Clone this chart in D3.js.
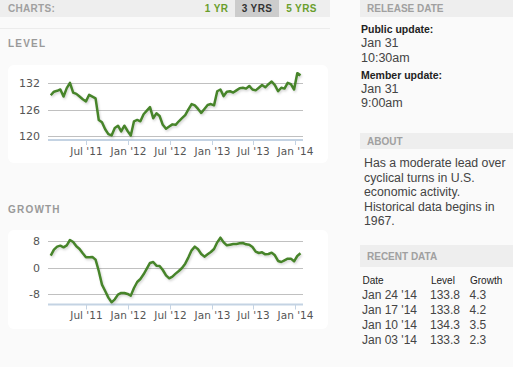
<!DOCTYPE html>
<html><head><meta charset="utf-8">
<script src="https://cdn.jsdelivr.net/npm/d3@7/dist/d3.min.js"></script>
<style>
html,body{margin:0;padding:0;background:#fafafa;}
svg{display:block;}
</style></head>
<body>
<svg id="c" width="513" height="367"></svg>
<script>
// ---- data (biweekly readings, Jan 28 2011 .. Jan 24 2014) ----
const startDate = "2011-01-28";
const stepDays = 14;
const levelValues = [129.3,130.1,130.3,130.6,129.0,130.9,132.1,129.9,129.6,129.0,
 128.4,127.9,129.4,129.0,128.6,123.7,123.2,121.6,120.5,120.2,
 121.9,122.4,121.1,122.4,121.2,120.2,123.4,123.7,123.4,125.0,
 125.8,126.6,124.1,125.2,124.6,122.6,121.7,122.2,122.7,122.6,
 123.4,124.1,124.8,126.1,127.3,127.0,126.2,125.3,126.2,127.1,
 127.3,127.0,130.2,130.6,129.1,130.1,130.2,129.9,130.4,130.9,
 131.0,130.8,131.4,130.6,130.4,131.0,131.6,131.1,131.8,132.4,
 131.6,130.2,131.0,130.8,132.1,131.8,130.6,134.3,133.8];
const growthValues = [3.6,5.4,6.3,6.6,6.1,6.7,8.3,7.7,6.4,5.6,
 4.3,3.1,3.1,3.2,2.4,-1.0,-5.1,-7.0,-9.0,-10.4,
 -9.5,-8.1,-7.6,-7.6,-7.9,-8.4,-6.1,-4.3,-3.4,-2.0,
 -0.3,1.4,1.7,0.6,0.5,-0.7,-2.3,-3.2,-2.7,-1.8,
 -1.0,-0.1,1.2,3.1,5.2,6.3,5.5,4.1,3.3,4.0,
 4.7,5.6,7.6,9.0,7.6,6.7,6.9,7.1,7.1,7.3,
 7.4,7.0,6.9,6.2,4.8,4.4,4.6,4.0,4.1,4.5,
 3.7,2.0,1.7,2.2,2.7,2.7,1.9,3.5,4.3];
const xTickDates = ["2011-07-01","2012-01-01","2012-07-01","2013-01-01","2013-07-01","2014-01-01"];
const xTickLabels = ["Jul '11","Jan '12","Jul '12","Jan '13","Jul '13","Jan '14"];
const levelTicks = [120,126,132];
const growthTicks = [-8,0,8];
const chartButtons = ["1 YR","3 YRS","5 YRS"];
const aboutLines = ["Has a moderate lead over","cyclical turns in U.S.","economic activity.","Historical data begins in","1967."];
const tableHeader = ["Date","Level","Growth"];
const recentDates = ["Jan 24 '14","Jan 17 '14","Jan 10 '14","Jan 03 '14"];
const recentLevels = ["133.8","133.8","134.3","133.3"];
const recentGrowth = ["4.3","4.2","3.5","2.3"];

const parse = d3.timeParse("%Y-%m-%d");
const t0 = parse(startDate);
const dates = levelValues.map((_, i) => d3.timeDay.offset(t0, stepDays * i));

const svg = d3.select("#c");
const defs = svg.append("defs");
const f = defs.append("filter").attr("id","sh").attr("x","-5%").attr("y","-20%").attr("width","110%").attr("height","140%");
f.append("feDropShadow").attr("dx",1).attr("dy",1.5).attr("stdDeviation",1.2).attr("flood-color","#000").attr("flood-opacity",0.18);

const SANS = "'Liberation Sans', Arial, sans-serif";
const AX = "'DejaVu Sans', Verdana, sans-serif";

// ---- left header ----
svg.append("rect").attr("x",0).attr("y",0).attr("width",330).attr("height",17).attr("fill","#eeeeee");
svg.append("text").attr("x",8).attr("y",12).text("CHARTS:").attr("font-family",SANS).attr("font-weight","bold").attr("font-size",10).attr("fill","#a0a0a0").attr("letter-spacing",0.3);
svg.append("rect").attr("x",235).attr("y",0).attr("width",44).attr("height",17).attr("fill","#cccccc");
const btnX = [216.5, 257, 301.5];
chartButtons.forEach((b,i)=>{
  svg.append("text").attr("x",btnX[i]).attr("y",12).attr("text-anchor","middle").text(b)
    .attr("font-family",SANS).attr("font-weight","bold").attr("font-size",10).attr("letter-spacing",0.4)
    .attr("fill", i===1 ? "#333" : "#6a9e2c");
});
svg.append("line").attr("x1",0).attr("x2",330).attr("y1",28.5).attr("y2",28.5).attr("stroke","#ececec");

function sectionLabel(txt, y){
  svg.append("text").attr("x",8).attr("y",y).text(txt).attr("font-family",SANS).attr("font-weight","bold")
    .attr("font-size",10).attr("fill","#999").attr("letter-spacing",1.2);
}
sectionLabel("LEVEL",47);
sectionLabel("GROWTH",213);

// ---- charts ----
const x = d3.scaleTime().domain([parse("2011-01-16"), parse("2014-02-04")]).range([48, 303]);

function drawChart(opts){
  const {boxTop, boxBottom, values, ticks, y, axisY, labelY, fmt} = opts;
  svg.append("rect").attr("x",8).attr("y",boxTop).attr("width",320).attr("height",boxBottom-boxTop)
    .attr("rx",6).attr("fill","#ffffff");
  const g = svg.append("g");
  ticks.forEach(t=>{
    g.append("line").attr("x1",48).attr("x2",303).attr("y1",Math.round(y(t))+0.5).attr("y2",Math.round(y(t))+0.5)
      .attr("stroke","#c0c0c0").attr("stroke-width",1);
    g.append("text").attr("x",40).attr("y",y(t)).attr("dy","0.36em").attr("text-anchor","end")
      .text(fmt(t)).attr("font-family",AX).attr("font-size",11).attr("fill","#555");
  });
  g.append("line").attr("x1",48).attr("x2",303).attr("y1",axisY).attr("y2",axisY).attr("stroke","#c4d3e3").attr("stroke-width",2);
  xTickDates.forEach((d,i)=>{
    const xx = Math.round(x(parse(d)))+0.5;
    g.append("line").attr("x1",xx).attr("x2",xx).attr("y1",axisY).attr("y2",axisY+5).attr("stroke","#c4d3e3").attr("stroke-width",1);
    g.append("text").attr("x",xx).attr("y",labelY).attr("dy","0.36em").attr("text-anchor","middle")
      .text(xTickLabels[i]).attr("font-family",AX).attr("font-size",10.5).attr("fill","#555");
  });
  const line = d3.line().x((d,i)=>x(dates[i])).y(d=>y(d)).curve(d3.curveLinear);
  g.append("path").datum(values).attr("d",line).attr("fill","none").attr("stroke","#47842a")
    .attr("stroke-width",2.5).attr("stroke-linejoin","round").attr("filter","url(#sh)");
}

const yLevel = d3.scaleLinear().domain([120,132]).range([136.3,83.3]);
drawChart({boxTop:65, boxBottom:163, values:levelValues, ticks:levelTicks, y:yLevel, axisY:140, labelY:151, fmt:d=>d});
const yGrowth = d3.scaleLinear().domain([-8,8]).range([294.3,241]);
drawChart({boxTop:230, boxBottom:329, values:growthValues, ticks:growthTicks, y:yGrowth, axisY:304.5, labelY:315.5, fmt:d=>d<0?"-"+Math.abs(d):d});

// ---- right panel ----
function panelBar(txt, y, h){
  svg.append("rect").attr("x",360).attr("y",y).attr("width",153).attr("height",h).attr("fill","#eeeeee");
  svg.append("text").attr("x",367).attr("y",y+h/2).attr("dy","0.36em").text(txt).attr("font-family",SANS)
    .attr("font-weight","bold").attr("font-size",10).attr("fill","#a0a0a0");
}
panelBar("RELEASE DATE",0,17);
function txt(s,xx,yy,size,weight,fill){
  svg.append("text").attr("x",xx).attr("y",yy).attr("dy","0.36em").text(s).attr("font-family",SANS)
    .attr("font-size",size).attr("font-weight",weight).attr("fill",fill);
}
txt("Public update:",361,29,10.5,"bold","#222");
txt("Jan 31",361,42,12.5,"normal","#444");
txt("10:30am",361,57,12.5,"normal","#444");
txt("Member update:",361,75,10.5,"bold","#222");
txt("Jan 31",361,88,12.5,"normal","#444");
txt("9:00am",361,102,12.5,"normal","#444");

panelBar("ABOUT",133,16);
aboutLines.forEach((l,i)=>txt(l,364,163+i*14.5,12.3,"normal","#444"));

panelBar("RECENT DATA",245,22);
const colX = [362.5,431,470];
tableHeader.forEach((h,i)=>txt(h,colX[i],280,10,"normal","#222"));
recentDates.forEach((d,i)=>{
  const yy = 294.5 + i*15;
  txt(d,362,yy,12,"normal","#444");
  txt(recentLevels[i],430,yy,12,"normal","#444");
  txt(recentGrowth[i],469.5,yy,12,"normal","#444");
});
</script>
</body></html>
